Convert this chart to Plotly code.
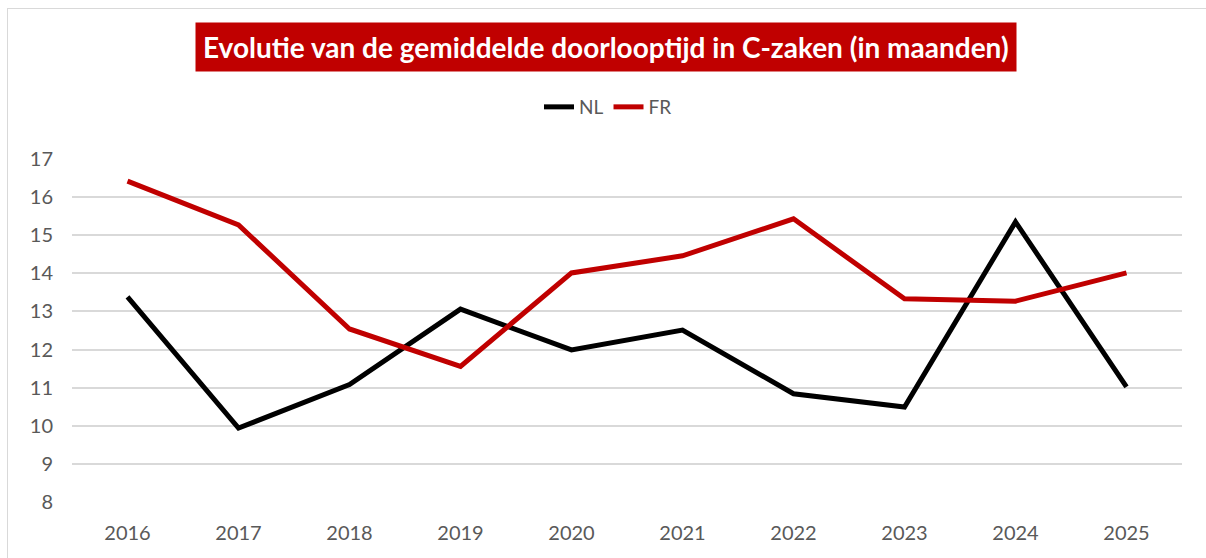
import plotly.graph_objects as go

years = ["2016", "2017", "2018", "2019", "2020", "2021", "2022", "2023", "2024", "2025"]
nl = [13.38, 9.94, 11.08, 13.06, 11.99, 12.51, 10.84, 10.49, 15.35, 11.02]
fr = [16.42, 15.27, 12.54, 11.56, 14.01, 14.46, 15.43, 13.33, 13.27, 14.01]
y_ticks = [8, 9, 10, 11, 12, 13, 14, 15, 16, 17]

W, H = 1206, 558
L, R, T, B = 72, 24, 159, 56
pw, ph = W - L - R, H - T - B

def px(x):
    return (x - L) / pw

def py(y):
    return (H - B - y) / ph

fig = go.Figure()
fig.add_trace(go.Scatter(x=years, y=nl, name="NL", mode="lines",
                         line=dict(color="#000000", width=5)))
fig.add_trace(go.Scatter(x=years, y=fr, name="FR", mode="lines",
                         line=dict(color="#C00000", width=5)))

fig.update_layout(
    width=W, height=H,
    margin=dict(l=L, r=R, t=T, b=B),
    paper_bgcolor="white", plot_bgcolor="white",
    font=dict(family="Lato, Open Sans, sans-serif", size=19, color="#595959"),
    showlegend=True,
    legend=dict(orientation="h", x=px(608), xanchor="center", y=py(107), yanchor="middle",
                font=dict(size=19, color="#595959"), tracegroupgap=0,
                bgcolor="rgba(0,0,0,0)"),
    xaxis=dict(type="category", range=[-0.5, 9.5], showgrid=False, showline=False,
               ticks="", zeroline=False, tickfont=dict(size=20, color="#595959"),
               ticklabelstandoff=17),
    yaxis=dict(range=[8, 17], tickvals=y_ticks, showgrid=True, gridcolor="#D9D9D9",
               gridwidth=1.5, zeroline=False, showline=False, ticks="",
               tickfont=dict(size=20, color="#595959"), ticklabelstandoff=18),
    annotations=[dict(
        text="<b>Evolutie van de gemiddelde doorlooptijd in C-zaken (in maanden)</b>",
        xref="paper", yref="paper", x=px(606), y=py(46.5), xanchor="center", yanchor="middle",
        showarrow=False, bgcolor="#C00000", font=dict(size=28, color="white",
        family="Lato, Open Sans, sans-serif"), borderpad=7)],
    shapes=[
        dict(type="line", xref="paper", yref="paper", x0=px(7), x1=px(1206), y0=py(8.5), y1=py(8.5),
             line=dict(color="#D9D9D9", width=1)),
        dict(type="line", xref="paper", yref="paper", x0=px(7.5), x1=px(7.5), y0=py(8), y1=py(558),
             line=dict(color="#D9D9D9", width=1)),
    ],
)

fig.write_html("out.html", config={"displayModeBar": False},
               post_script="document.body.style.margin='0';document.body.style.overflow='hidden';")
